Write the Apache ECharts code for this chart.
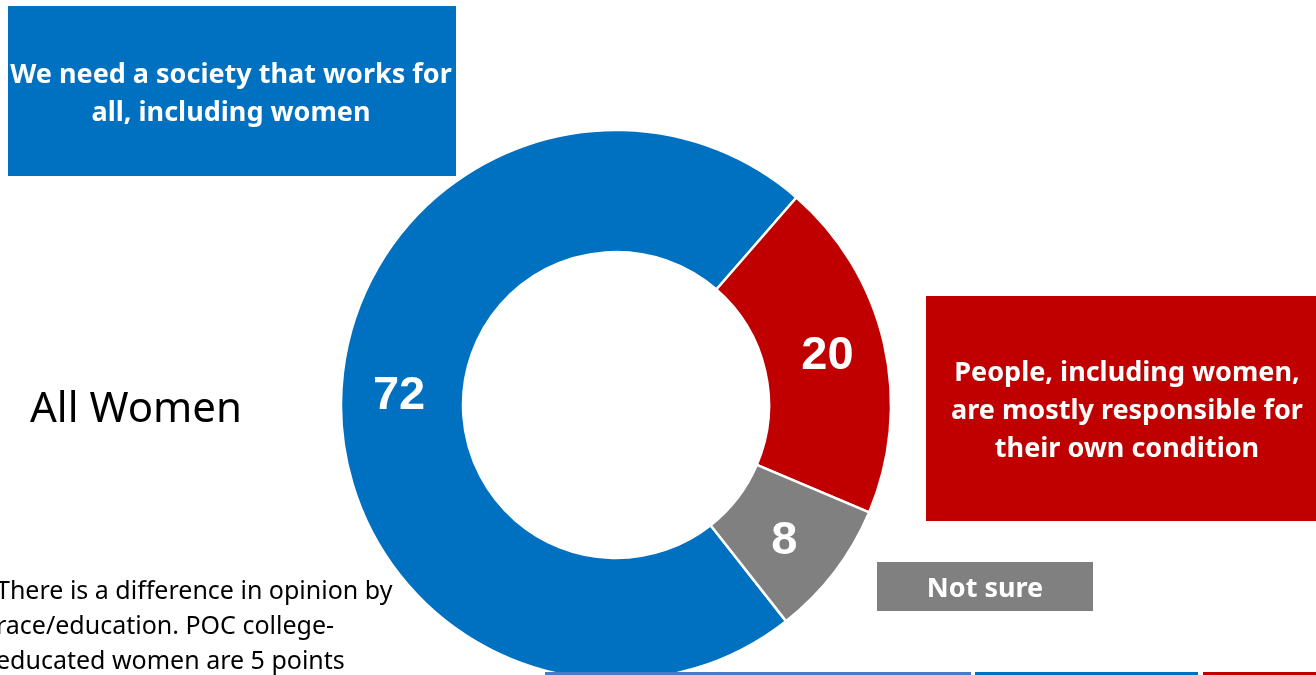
<!DOCTYPE html>
<html>
<head>
<meta charset="utf-8">
<script src="https://cdn.jsdelivr.net/npm/echarts@6/dist/echarts.min.js"></script>
<style>
  html, body { margin: 0; padding: 0; background: #ffffff; }
  #chart { width: 1316px; height: 675px; }
</style>
</head>
<body>
<div id="chart"></div>
<script>
// Survey answers (share of all women, %)
const categories = [
  'We need a society that works for all, including women',
  'People, including women, are mostly responsible for their own condition',
  'Not sure'
];
const values = [72, 20, 8];

// Wrapped captions for the answer boxes
const captionSociety = ['We need a society that works for', 'all, including women'];
const captionOwn = ['People, including women,', 'are mostly responsible for', 'their own condition'];
const captionUnsure = ['Not sure'];

const groupTitle = 'All Women';
const noteLines = [
  'There is a difference in opinion by',
  'race/education. POC college-',
  'educated women are 5 points'
];

const BLUE = '#0070C0';
const RED = '#C00000';
const GREY = '#808080';
const sliceColors = [BLUE, RED, GREY];

const chart = echarts.init(document.getElementById('chart'), null, { renderer: 'canvas' });

const boxFont = 'bold 27px "Noto Sans", "Open Sans", sans-serif';

const option = {
  animation: false,
  backgroundColor: '#ffffff',
  series: [{
    type: 'pie',
    center: [616, 405],
    radius: [153, 275],
    startAngle: 308.2,
    clockwise: true,
    silent: true,
    itemStyle: { borderColor: '#ffffff', borderWidth: 2.5 },
    label: {
      show: true,
      position: 'inside',
      formatter: '{c}',
      color: '#ffffff',
      fontFamily: '"Liberation Sans", Arial, sans-serif',
      fontWeight: 'bold',
      fontSize: 47
    },
    labelLine: { show: false },
    data: categories.map((name, i) => ({
      name: name,
      value: values[i],
      itemStyle: { color: sliceColors[i] },
      label: i === 0 ? { offset: [0, -4] } : (i === 2 ? { offset: [-4, 4] } : {})
    }))
  }],
  graphic: [
    // answer box: society
    { type: 'rect', shape: { x: 8, y: 6, width: 448, height: 170 }, style: { fill: BLUE }, z: 10 },
    { type: 'text', z: 11, style: {
        text: captionSociety.join('\n'), x: 231, y: 94, align: 'center', verticalAlign: 'middle',
        font: boxFont, fill: '#ffffff', lineHeight: 38 } },
    // answer box: own condition
    { type: 'rect', shape: { x: 926, y: 296, width: 390, height: 225 }, style: { fill: RED }, z: 10 },
    { type: 'text', z: 11, style: {
        text: captionOwn.join('\n'), x: 1127, y: 411, align: 'center', verticalAlign: 'middle',
        font: boxFont, fill: '#ffffff', lineHeight: 38 } },
    // answer box: not sure
    { type: 'rect', shape: { x: 877, y: 562, width: 216, height: 49 }, style: { fill: GREY }, z: 10 },
    { type: 'text', z: 11, style: {
        text: captionUnsure.join('\n'), x: 985, y: 589, align: 'center', verticalAlign: 'middle',
        font: boxFont, fill: '#ffffff' } },
    // group title
    { type: 'text', z: 11, style: {
        text: groupTitle, x: 30, y: 410, align: 'left', verticalAlign: 'middle',
        font: '42px "Noto Sans", "Open Sans", sans-serif', fill: '#000000' } },
    // note text
    { type: 'text', z: 11, style: {
        text: noteLines.join('\n'), x: -4, y: 627, align: 'left', verticalAlign: 'middle',
        font: '25px "Noto Sans", "Open Sans", sans-serif', fill: '#000000', lineHeight: 35 } },
    // strips along the bottom edge
    { type: 'rect', shape: { x: 545, y: 672, width: 426, height: 4 }, style: { fill: '#4A7AC6' }, z: 10 },
    { type: 'rect', shape: { x: 975, y: 672, width: 223, height: 4 }, style: { fill: BLUE }, z: 10 },
    { type: 'rect', shape: { x: 1203, y: 672, width: 113, height: 4 }, style: { fill: RED }, z: 10 }
  ]
};

chart.setOption(option);
</script>
</body>
</html>
